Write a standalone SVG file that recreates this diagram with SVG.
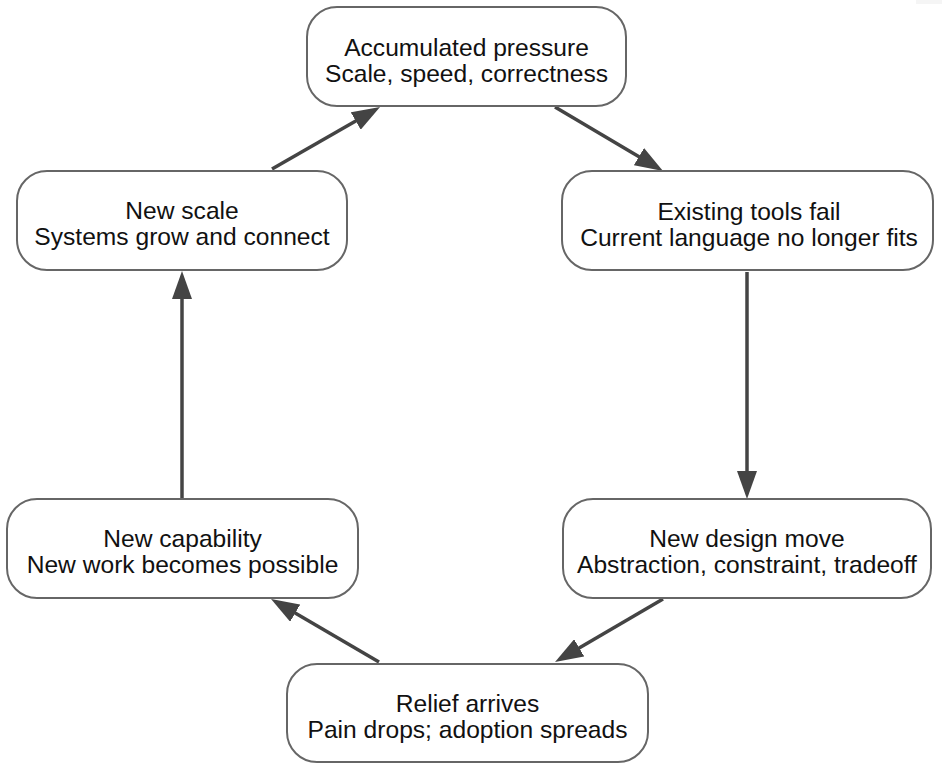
<svg xmlns="http://www.w3.org/2000/svg" width="942" height="764" viewBox="0 0 942 764">
  <style>
    .node rect { fill: #ffffff; stroke: #666666; stroke-width: 2; }
    .node text { font-family: "Liberation Sans", Arial, Helvetica, sans-serif; font-size: 24.6px; fill: #111111; text-anchor: middle; }
    .edge { stroke: #444444; stroke-width: 3.5; fill: none; marker-end: url(#head); }
  </style>
  <defs>
    <marker id="head" markerUnits="userSpaceOnUse" markerWidth="28" markerHeight="20" refX="8" refY="10" orient="auto" viewBox="0 0 28 20">
      <path d="M0,0 L28,10 L0,20 Z" fill="#444444"/>
    </marker>
  </defs>
  <rect x="916" y="0" width="26" height="4" fill="#f5f5f5"/>

  <g id="connectors">
    <line class="edge" x1="555" y1="107" x2="645.8" y2="160.8"/>
    <line class="edge" x1="747" y1="272" x2="747" y2="479"/>
    <line class="edge" x1="663" y1="599" x2="572.3" y2="651.9"/>
    <line class="edge" x1="379" y1="662" x2="288.3" y2="609.1"/>
    <line class="edge" x1="182" y1="498" x2="182" y2="291"/>
    <line class="edge" x1="272" y1="169" x2="362.7" y2="117"/>
  </g>

  <g id="accumulated-pressure" class="node">
    <rect x="307" y="7" width="319" height="99" rx="30" ry="30"/>
    <text x="466.5" y="56">Accumulated pressure</text>
    <text x="466.5" y="82">Scale, speed, correctness</text>
  </g>

  <g id="existing-tools-fail" class="node">
    <rect x="562" y="171" width="371" height="99" rx="30" ry="30"/>
    <text x="749" y="220">Existing tools fail</text>
    <text x="749" y="246">Current language no longer fits</text>
  </g>

  <g id="new-design-move" class="node">
    <rect x="563" y="499" width="368" height="99" rx="30" ry="30"/>
    <text x="747" y="547">New design move</text>
    <text x="747" y="573">Abstraction, constraint, tradeoff</text>
  </g>

  <g id="relief-arrives" class="node">
    <rect x="287" y="664" width="361" height="98" rx="30" ry="30"/>
    <text x="467.5" y="712">Relief arrives</text>
    <text x="467.5" y="738">Pain drops; adoption spreads</text>
  </g>

  <g id="new-capability" class="node">
    <rect x="7" y="499" width="351" height="99" rx="30" ry="30"/>
    <text x="182.5" y="547">New capability</text>
    <text x="182.5" y="573">New work becomes possible</text>
  </g>

  <g id="new-scale" class="node">
    <rect x="17" y="171" width="330" height="99" rx="30" ry="30"/>
    <text x="182" y="219">New scale</text>
    <text x="182" y="245">Systems grow and connect</text>
  </g>
</svg>
